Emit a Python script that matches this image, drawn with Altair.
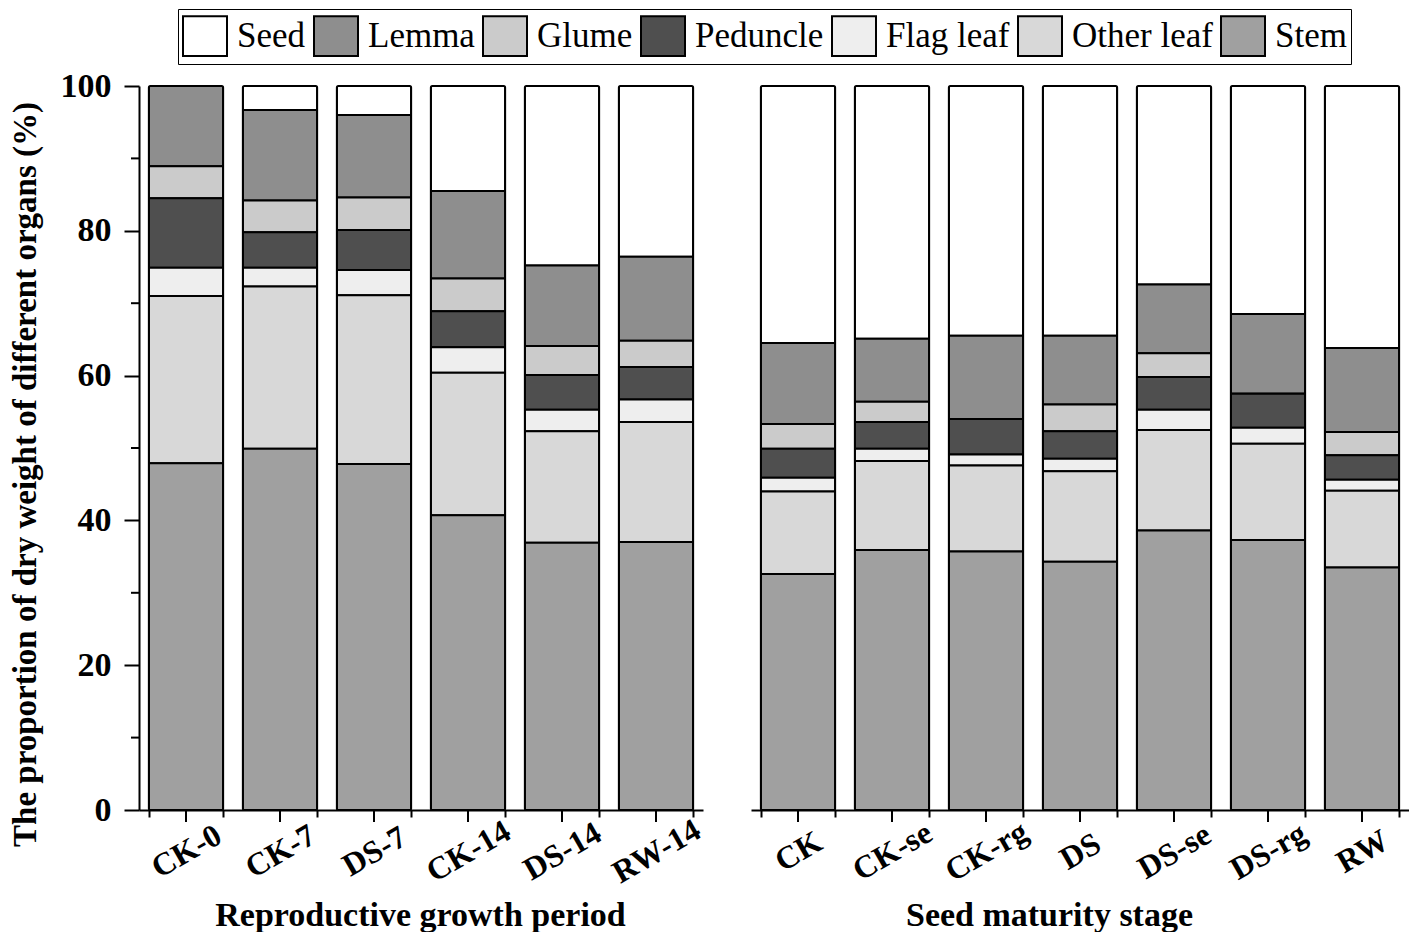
import altair as alt
import pandas as pd

# ---- data -------------------------------------------------------------
organs = ["Seed", "Lemma", "Glume", "Peduncle", "Flag leaf", "Other leaf", "Stem"]
organ_colors = ["#ffffff", "#8e8e8e", "#cbcbcb", "#4f4f4f", "#eeeeee", "#d8d8d8", "#a0a0a0"]
stack_rank = [6, 5, 4, 3, 2, 1, 0]  # Stem at the bottom, Seed on top

left_groups = ["CK-0", "CK-7", "DS-7", "CK-14", "DS-14", "RW-14"]
right_groups = ["CK", "CK-se", "CK-rg", "DS", "DS-se", "DS-rg", "RW"]

# proportion of dry weight (%) per organ, left panel
left_seed = [0.0, 3.3, 4.0, 14.5, 24.8, 23.6]
left_lemma = [11.1, 12.5, 11.4, 12.1, 11.1, 11.6]
left_glume = [4.4, 4.4, 4.5, 4.5, 4.0, 3.6]
left_peduncle = [9.6, 4.9, 5.5, 5.0, 4.8, 4.5]
left_flag = [3.9, 2.6, 3.5, 3.5, 3.0, 3.1]
left_other = [23.1, 22.4, 23.3, 19.7, 15.4, 16.6]
left_stem = [47.9, 49.9, 47.8, 40.7, 36.9, 37.0]

# right panel
right_seed = [35.5, 34.9, 34.5, 34.5, 27.4, 31.5, 36.2]
right_lemma = [11.2, 8.7, 11.5, 9.5, 9.5, 11.0, 11.6]
right_glume = [3.4, 2.8, 0.0, 3.7, 3.3, 0.0, 3.2]
right_peduncle = [4.0, 3.7, 4.9, 3.8, 4.5, 4.7, 3.4]
right_flag = [1.9, 1.7, 1.5, 1.7, 2.8, 2.2, 1.5]
right_other = [11.4, 12.3, 11.9, 12.5, 13.9, 13.3, 10.6]
right_stem = [32.6, 35.9, 35.7, 34.3, 38.6, 37.3, 33.5]

y_major = [0, 20, 40, 60, 80, 100]
y_minor = [10, 30, 50, 70, 90]


def long_table(groups, series):
    rows = []
    for organ, rank, vals in zip(organs, stack_rank, series):
        for g, v in zip(groups, vals):
            rows.append({"Group": g, "Organ": organ, "Rank": rank, "Value": v})
    return pd.DataFrame(rows)


left_df = long_table(left_groups, [left_seed, left_lemma, left_glume, left_peduncle,
                                   left_flag, left_other, left_stem])
right_df = long_table(right_groups, [right_seed, right_lemma, right_glume, right_peduncle,
                                     right_flag, right_other, right_stem])

# ---- styling ----------------------------------------------------------
FONT = "Liberation Serif"
H = 724
STEP = 94
LW = STEP * len(left_groups)
RW = STEP * len(right_groups)

color_scale = alt.Scale(domain=organs, range=organ_colors)
y_scale = alt.Scale(domain=[0, 100], nice=False, zero=True)


def x_axis(title, title_x):
    return alt.Axis(
        title=title, titleFont=FONT, titleFontSize=34, titleFontWeight="bold",
        titleColor="black", titleX=title_x, titleY=88, titleBaseline="top",
        titleAlign="center",
        labelFont=FONT, labelFontSize=32, labelFontWeight="bold", labelColor="black",
        labelAngle=-30, labelAlign="center", labelBaseline="middle", labelPadding=34,
        labelOverlap=False,
        tickBand="extent", tickSize=7, tickWidth=2, tickColor="black",
        domainColor="black", domainWidth=2, grid=False,
    )


def x_scale(groups):
    return alt.Scale(domain=groups, paddingInner=0.21, paddingOuter=0.105)


def panel(df, groups, axis, show_y, legend):
    xs = x_scale(groups)
    if show_y:
        yaxis = alt.Axis(
            values=y_major, title="The proportion of dry weight of different organs (%)",
            titleFont=FONT, titleFontSize=33, titleFontWeight="bold", titleColor="black",
            titleX=-97, titleY=388,
            labelFont=FONT, labelFontSize=34, labelFontWeight="bold", labelColor="black",
            labelPadding=13, tickSize=15, tickWidth=2, tickColor="black",
            domainColor="black", domainWidth=2, grid=False,
        )
    else:
        yaxis = None
    bars = alt.Chart(df).mark_bar(stroke="black", strokeWidth=2, cornerRadius=1.5).encode(
        x=alt.X("Group:N", sort=groups, scale=xs, axis=axis),
        y=alt.Y("Value:Q", stack="zero", scale=y_scale, axis=yaxis),
        color=alt.Color("Organ:N", scale=color_scale, legend=legend),
        order=alt.Order("Rank:Q", sort="ascending"),
    )
    ticks = alt.Chart(pd.DataFrame({"Group": groups})).mark_rule(
        color="black", strokeWidth=2
    ).encode(
        x=alt.X("Group:N", sort=groups, scale=xs, axis=axis),
        y=alt.value(H), y2=alt.value(H + 12),
    )
    layers = [bars, ticks]
    if show_y:
        minor = alt.Chart(pd.DataFrame({"v": y_minor})).mark_rule(
            color="black", strokeWidth=2
        ).encode(
            y=alt.Y("v:Q", scale=y_scale, axis=yaxis),
            x=alt.value(0), x2=alt.value(-8),
        )
        layers.append(minor)
    return alt.layer(*layers)


legend = alt.Legend(
    title=None, orient="none", legendX=39, legendY=-77, direction="horizontal",
    columns=7, labelFont=FONT, labelFontSize=35, labelColor="black", labelLimit=300,
    labelOffset=9, columnPadding=4, padding=4,
    symbolType="M-1,-0.9H1V0.9H-1Z", symbolSize=1936,
    symbolStrokeColor="black", symbolStrokeWidth=2, symbolOpacity=1,
    strokeColor="black",
)

left = panel(left_df, left_groups, x_axis("Reproductive growth period", 281),
             True, legend).properties(width=LW, height=H)
right = panel(right_df, right_groups, x_axis("Seed maturity stage", 298),
              False, None).properties(width=RW, height=H)

chart = alt.hconcat(left, right, spacing=48, bounds="flush").resolve_scale(
    color="independent", x="independent", y="independent"
).resolve_legend(color="independent").properties(
    padding={"left": 0, "top": 0, "right": 0, "bottom": 0}
).configure_view(stroke=None)

chart.save("out.html", embed_options={"renderer": "svg", "actions": False})
